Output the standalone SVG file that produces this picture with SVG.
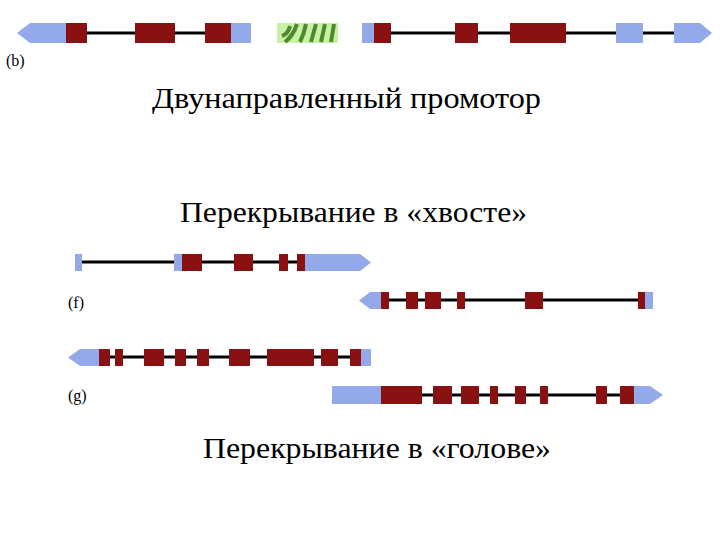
<svg xmlns="http://www.w3.org/2000/svg" width="720" height="540" viewBox="0 0 720 540">
<defs><style>
.b{fill:#93a9ea}.r{fill:#8a1111}.l{stroke:#000;stroke-width:3}
.t{font-family:"Liberation Serif",serif;font-size:30px;fill:#000}
.s{font-family:"Liberation Serif",serif;font-size:16px;fill:#000}
</style></defs>
<rect width="720" height="540" fill="#fff"/>
<g id="gene-b">
<line class="l" x1="60" y1="33" x2="240" y2="33"/>
<line class="l" x1="370" y1="33" x2="700" y2="33"/>
<polygon class="b" points="17,33 30,23 66,23 66,43 30,43"/>
<rect class="r" x="66" y="23" width="21" height="20"/>
<rect class="r" x="135" y="23" width="40" height="20"/>
<rect class="r" x="205" y="23" width="26" height="20"/>
<rect class="b" x="231" y="23" width="20" height="20"/>
<rect x="277" y="23" width="61" height="20" fill="#c9f0a6"/>
<g stroke="#4d8a2e" stroke-width="4" fill="none">
<path d="M282,36 q6,-2 8,-10 M285,42 q8,-6 12,-18 M300,42 q4,-8 6,-18 M311,42 l5,-18 M321,42 l4,-18 M331,42 l3,-18"/>
</g>
<rect class="b" x="362" y="23" width="12" height="20"/>
<rect class="r" x="374" y="23" width="17" height="20"/>
<rect class="r" x="455" y="23" width="23" height="20"/>
<rect class="r" x="510" y="23" width="56" height="20"/>
<rect class="b" x="616" y="23" width="27" height="20"/>
<polygon class="b" points="674,23 700,23 712,33 700,43 674,43"/>
<text class="s" x="6" y="66">(b)</text>
</g>
<g id="label1"><text class="t" x="152" y="108" textLength="389" lengthAdjust="spacingAndGlyphs">Двунаправленный промотор</text></g>
<g id="label2"><text class="t" x="180" y="222" textLength="347" lengthAdjust="spacingAndGlyphs">Перекрывание в «хвосте»</text></g>
<g id="gene-f1">
<line class="l" x1="78" y1="262" x2="360" y2="262"/>
<rect class="b" x="75" y="254" width="7" height="17"/>
<rect class="b" x="174" y="254" width="8" height="17"/>
<rect class="r" x="182" y="254" width="20" height="17"/>
<rect class="r" x="234" y="254" width="19" height="17"/>
<rect class="r" x="279" y="254" width="9" height="17"/>
<rect class="r" x="297" y="254" width="8" height="17"/>
<polygon class="b" points="305,254 360,254 371,262.5 360,271 305,271"/>
</g>
<g id="gene-f2">
<line class="l" x1="370" y1="300" x2="648" y2="300"/>
<polygon class="b" points="359,300.5 370,292 381,292 381,309 370,309"/>
<rect class="r" x="381" y="292" width="8" height="17"/>
<rect class="r" x="406" y="292" width="12" height="17"/>
<rect class="r" x="425" y="292" width="16" height="17"/>
<rect class="r" x="457" y="292" width="8" height="17"/>
<rect class="r" x="525" y="292" width="18" height="17"/>
<rect class="r" x="638" y="292" width="7" height="17"/>
<rect class="b" x="645" y="292" width="8" height="17"/>
<text class="s" x="68" y="308">(f)</text>
</g>
<g id="gene-g1">
<line class="l" x1="80" y1="357" x2="365" y2="357"/>
<polygon class="b" points="68,357.5 80,349 99,349 99,366 80,366"/>
<rect class="r" x="99" y="349" width="11" height="17"/>
<rect class="r" x="115" y="349" width="8" height="17"/>
<rect class="r" x="144" y="349" width="20" height="17"/>
<rect class="r" x="175" y="349" width="11" height="17"/>
<rect class="r" x="197" y="349" width="12" height="17"/>
<rect class="r" x="229" y="349" width="21" height="17"/>
<rect class="r" x="267" y="349" width="47" height="17"/>
<rect class="r" x="321" y="349" width="17" height="17"/>
<rect class="r" x="350" y="349" width="11" height="17"/>
<rect class="b" x="361" y="349" width="10" height="17"/>
</g>
<g id="gene-g2">
<line class="l" x1="340" y1="395" x2="650" y2="395"/>
<rect class="b" x="332" y="386" width="49" height="18"/>
<rect class="r" x="381" y="386" width="41" height="18"/>
<rect class="r" x="433" y="386" width="19" height="18"/>
<rect class="r" x="461" y="386" width="18" height="18"/>
<rect class="r" x="490" y="386" width="8" height="18"/>
<rect class="r" x="515" y="386" width="11" height="18"/>
<rect class="r" x="540" y="386" width="8" height="18"/>
<rect class="r" x="596" y="386" width="11" height="18"/>
<rect class="r" x="620" y="386" width="14" height="18"/>
<polygon class="b" points="634,386 650,386 663,395 650,404 634,404"/>
<text class="s" x="68" y="401">(g)</text>
</g>
<g id="label3"><text class="t" x="203" y="458" textLength="348" lengthAdjust="spacingAndGlyphs">Перекрывание в «голове»</text></g>
</svg>
